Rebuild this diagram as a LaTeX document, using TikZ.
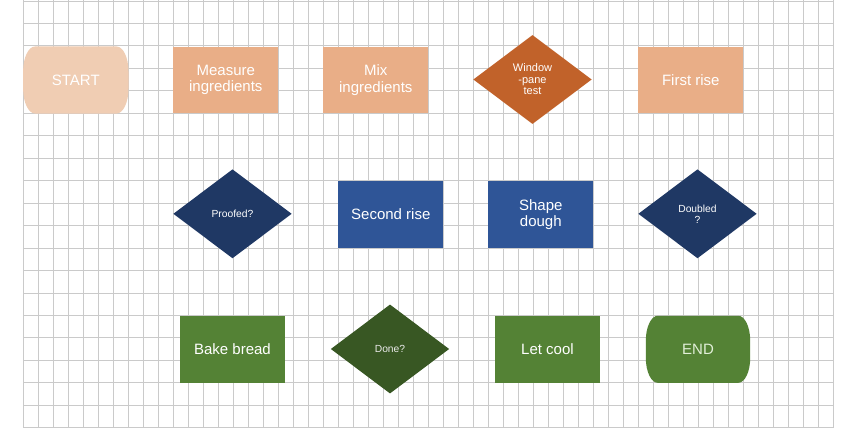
\documentclass[tikz,border=0pt]{standalone}
\usepackage{fontspec}
\setmainfont{Liberation Sans}
\usetikzlibrary{shapes.geometric,calc}
\pgfdeclarelayer{background}
\pgfsetlayers{background,main}
\definecolor{gridc}{HTML}{CACACA}
\definecolor{peachlight}{HTML}{F0CDB3}
\definecolor{peach}{HTML}{E9AE87}
\definecolor{rust}{HTML}{C1622A}
\definecolor{navy}{HTML}{1F3864}
\definecolor{blueb}{HTML}{2F5597}
\definecolor{greenb}{HTML}{548235}
\definecolor{greend}{HTML}{385723}
\definecolor{endtxt}{HTML}{E2F0D9}
\begin{document}
\begin{tikzpicture}[x=1pt,y=-1pt,
  box/.style={rectangle,minimum width=105pt,minimum height=66.7pt,inner sep=0pt,
    align=center,text=white,font=\fontsize{15}{16.5}\selectfont},
  term/.style={box},
  dia/.style={diamond,minimum width=118.4pt,minimum height=89pt,inner sep=0pt,
    align=center,text=white,font=\fontsize{10.3}{11}\selectfont}]
\useasboundingbox (0,0) rectangle (850,429);
\begin{pgfonlayer}{background}
\fill[white] (0,0) rectangle (850,429);
\foreach \k in {0,...,54} \draw[gridc,line width=0.85pt] (23.3+15*\k,0) -- (23.3+15*\k,427.7);
\foreach \j in {0,...,19} \draw[gridc,line width=0.85pt] (23.3,1+22.46*\j) -- (833.3,1+22.46*\j);
\end{pgfonlayer}

% row 1
\node[term] (start) at (75.8,80) {START};
\node[box,fill=peach] (measure) at (225.8,80) {Measure\\ingredients};
\node[box,fill=peach] (mix) at (375.8,80) {Mix\\ingredients};
\node[dia,fill=rust,font=\fontsize{11}{11.5}\selectfont] (window) at (532.5,79.5) {Window\\-pane\\test};
\node[box,fill=peach] (first) at (690.8,80) {First rise};
% row 2
\node[dia,fill=navy] (proofed) at (232.5,213.8) {Proofed?};
\node[box,fill=blueb] (second) at (390.8,214.5) {Second rise};
\node[box,fill=blueb] (shape) at (540.8,214.5) {Shape\\dough};
\node[dia,fill=navy] (doubled) at (697.5,213.8) {Doubled\\?};
% row 3
\node[box,fill=greenb] (bake) at (232.5,349.5) {Bake bread};
\node[dia,fill=greend,text=white!92!black] (done) at (390,349) {Done?};
\node[box,fill=greenb] (cool) at (547.5,349.5) {Let cool};
\node[term,text=endtxt,minimum width=104pt] (endn) at (698,349.3) {END};

\begin{pgfonlayer}{background}
\foreach \n/\c in {start/peachlight,endn/greenb}{
  \fill[\c] ($(\n.north west)+(12,0)$) -- ($(\n.north east)+(-12,0)$)
    arc[start angle=-90,end angle=0,x radius=12,y radius=25]
    -- ($(\n.south east)+(0,-25)$)
    arc[start angle=0,end angle=90,x radius=12,y radius=25]
    -- ($(\n.south west)+(12,0)$)
    arc[start angle=90,end angle=180,x radius=12,y radius=25]
    -- ($(\n.north west)+(0,25)$)
    arc[start angle=180,end angle=270,x radius=12,y radius=25] -- cycle;
}
\end{pgfonlayer}
\end{tikzpicture}
\end{document}
